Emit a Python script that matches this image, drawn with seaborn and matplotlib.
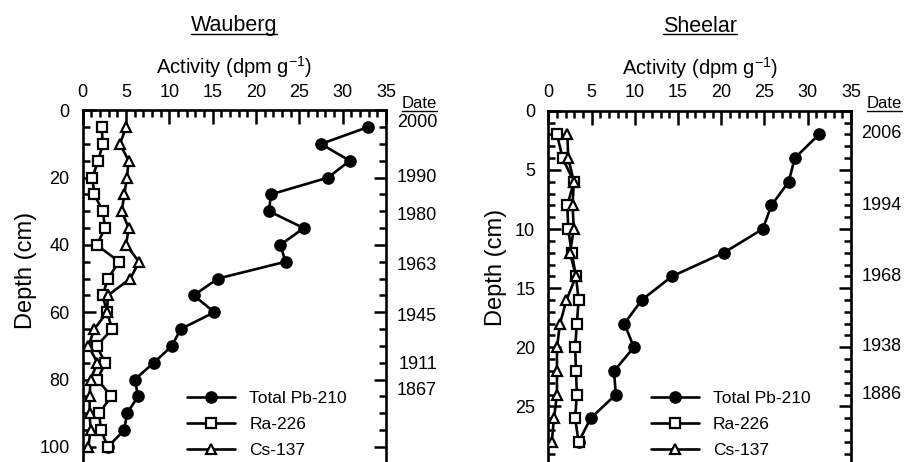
import pandas as pd
import matplotlib
matplotlib.use('Agg')
import matplotlib.pyplot as plt
import seaborn as sns
from matplotlib.ticker import MultipleLocator
from matplotlib.lines import Line2D
from matplotlib.transforms import blended_transform_factory

# Wauberg core (depth in cm, activity in dpm/g)
w_depth = [5, 10, 15, 20, 25, 30, 35, 40, 45, 50, 55, 60, 65, 70, 75, 80, 85, 90, 95, 100]
w_pb = [32.9, 27.5, 30.8, 28.3, 21.7, 21.5, 25.5, 22.8, 23.4, 15.6,
        12.8, 15.2, 11.3, 10.3, 8.2, 6.0, 6.4, 5.1, 4.8, 2.9]
w_ra = [2.2, 2.3, 1.8, 1.1, 1.35, 2.3, 2.6, 1.6, 4.2, 2.9,
        2.3, 2.8, 3.4, 1.6, 2.6, 1.7, 3.3, 1.9, 2.1, 2.9]
w_cs = [5.0, 4.3, 5.3, 5.1, 4.8, 4.5, 5.3, 5.0, 6.5, 5.5,
        2.9, 2.8, 1.35, 0.65, 1.7, 0.9, 0.8, 0.8, 0.9, 0.65]
w_dates = ['2000', '1990', '1980', '1963', '1945', '1911', '1867']
w_date_depth = [3.5, 20, 31.3, 46, 61.2, 75.4, 83.2]

# Sheelar core
s_depth = [2, 4, 6, 8, 10, 12, 14, 16, 18, 20, 22, 24, 26, 28]
s_pb = [31.3, 28.5, 27.8, 25.8, 24.8, 20.3, 14.3, 10.8, 8.8, 9.9, 7.6, 7.8, 4.9, 3.5]
s_ra = [1.0, 1.65, 2.95, 2.2, 2.3, 2.7, 3.2, 3.5, 3.3, 3.1, 3.2, 3.3, 3.1, 3.5]
s_cs = [2.2, 2.3, 2.95, 2.8, 2.95, 2.5, 3.2, 2.1, 1.35, 1.0, 1.0, 1.0, 0.65, 0.4]
s_dates = ['2006', '1994', '1968', '1938', '1886']
s_date_depth = [1.9, 8.0, 14.0, 19.9, 24.0]

sns.set_theme(style='ticks', rc={'axes.edgecolor': 'black', 'xtick.color': 'black',
                                 'ytick.color': 'black', 'text.color': 'black',
                                 'axes.labelcolor': 'black'})
plt.rcParams['font.family'] = ['Liberation Sans', 'DejaVu Sans']

fig = plt.figure(figsize=(9.11, 4.62), dpi=100)
ax1 = fig.add_axes([0.0908, 0.0, 0.333, 0.7613])
ax2 = fig.add_axes([0.6019, 0.0, 0.3322, 0.7602])

series_style = {
    'Total Pb-210': dict(marker='o', markerfacecolor='black', markersize=7.5),
    'Ra-226': dict(marker='s', markerfacecolor='white', markersize=6.8),
    'Cs-137': dict(marker='^', markerfacecolor='white', markersize=7.8),
}


def draw_core(ax, depth, pb, ra, cs, ymax, major, minor, dates, date_depth,
              leg_x, ylab_xy):
    df = pd.DataFrame({'depth': depth, 'Total Pb-210': pb, 'Ra-226': ra, 'Cs-137': cs})
    for i, name in enumerate(['Total Pb-210', 'Ra-226', 'Cs-137']):
        sns.lineplot(data=df, x=name, y='depth', orient='y', estimator=None, ax=ax,
                     color='black', linewidth=1.9, markeredgecolor='black',
                     markeredgewidth=1.6, label=name, zorder=3 + i,
                     **series_style[name])

    ax.set_xlim(0, 35)
    ax.set_ylim(ymax, 0)
    ax.xaxis.tick_top()
    ax.xaxis.set_label_position('top')
    ax.xaxis.set_major_locator(MultipleLocator(5))
    ax.xaxis.set_minor_locator(MultipleLocator(1))
    ax.yaxis.set_major_locator(MultipleLocator(major))
    ax.yaxis.set_minor_locator(MultipleLocator(minor))
    ax.tick_params(axis='both', which='both', direction='in', top=True, bottom=False,
                   left=True, right=True, labeltop=True, labelbottom=False,
                   labelright=False, width=1.8, labelsize=13)
    ax.tick_params(axis='x', which='major', length=10, pad=7)
    ax.tick_params(axis='x', which='minor', length=5)
    ax.tick_params(axis='y', which='major', length=9, pad=9.5)
    ax.tick_params(axis='y', which='minor', length=5)
    ax.spines['bottom'].set_visible(False)
    for s in ['top', 'left', 'right']:
        ax.spines[s].set_linewidth(1.9)

    ax.set_xlabel(r'Activity (dpm g$^{\mathregular{-1}}$)', fontsize=14.5, labelpad=7)
    ax.set_ylabel('Depth (cm)', fontsize=17)
    ax.yaxis.set_label_coords(*ylab_xy)

    ax.legend(loc='lower left', bbox_to_anchor=(leg_x, 0.012), frameon=False,
              fontsize=12.5, handlelength=2.8, handletextpad=0.8,
              labelspacing=0.62, borderpad=0, borderaxespad=0)

    trans = blended_transform_factory(ax.transAxes, ax.transData)
    for lab, d in zip(dates, date_depth):
        ax.text(1.168, d, lab, transform=trans, ha='right', va='center',
                fontsize=13, clip_on=False)


draw_core(ax1, w_depth, w_pb, w_ra, w_cs, 104.5, 20, 5, w_dates, w_date_depth,
          0.343, (-0.151, 0.546))
draw_core(ax2, s_depth, s_pb, s_ra, s_cs, 29.7, 5, 1, s_dates, s_date_depth,
          0.338, (-0.137, 0.555))

# underlined headings
W, H = fig.get_size_inches() * fig.dpi
renderer = fig.canvas.get_renderer()


def underlined(x_px, y_px, text, size, ha):
    t = fig.text(x_px / W, 1 - y_px / H, text, ha=ha, va='baseline', fontsize=size)
    bb = t.get_window_extent(renderer)
    yl = (H - y_px - 2) / H
    fig.add_artist(Line2D([bb.x0 / W, bb.x1 / W], [yl, yl], transform=fig.transFigure,
                          color='black', linewidth=1.0))


underlined(234, 31.5, 'Wauberg', 15.5, 'center')
underlined(699.6, 31.5, 'Sheelar', 15.5, 'center')
underlined(437, 108.5, 'Date', 12, 'right')
underlined(902, 108.5, 'Date', 12, 'right')

fig.savefig('out.png', dpi=100)
